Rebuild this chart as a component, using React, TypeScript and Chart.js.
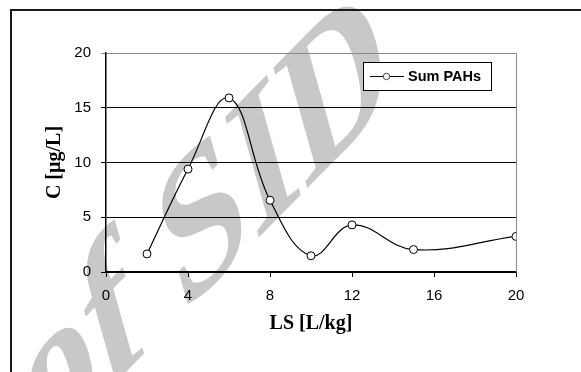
import React, { useEffect, useRef } from "react";
import { Chart, registerables } from "chart.js";

Chart.register(...registerables);

const lsValues = [2, 4, 6, 8, 10, 12, 15, 20];
const sumPAHs = [1.65, 9.4, 15.9, 6.55, 1.48, 4.3, 2.05, 3.25];
const seriesLabel = "Sum PAHs";
const xTitle = "LS [L/kg]";
const yTitle = "C [µg/L]";
const watermarkText = "of SID";

const WM = { a: 1.302, b: -1.323, c: 0.518, d: 1.834, e: 41, f: 458.5 };

const framePlugin = {
  id: "frame",
  beforeDraw(chart: any) {
    const ctx = chart.ctx;
    ctx.save();
    ctx.setTransform(WM.a, WM.b, WM.c, WM.d, WM.e, WM.f);
    ctx.font = 'bold 100px "Liberation Serif"';
    ctx.fillStyle = "rgb(200,200,200)";
    ctx.textBaseline = "alphabetic";
    ctx.textAlign = "left";
    ctx.fillText(watermarkText, 0, 0);
    ctx.restore();
  },
  afterDatasetsDraw(chart: any) {
    const ctx = chart.ctx;
    const { right, top, bottom } = chart.chartArea;
    ctx.save();
    ctx.strokeStyle = "#8a8a8a";
    ctx.lineWidth = 1;
    ctx.beginPath();
    ctx.moveTo(Math.round(right) + 0.5, top);
    ctx.lineTo(Math.round(right) + 0.5, bottom);
    ctx.stroke();

    const bx = right - 153, by = top + 9, bw = 128, bh = 28;
    ctx.fillStyle = "#fff";
    ctx.fillRect(bx, by, bw, bh);
    ctx.strokeStyle = "#000";
    ctx.lineWidth = 1;
    ctx.strokeRect(bx + 0.5, by + 0.5, bw, bh);
    const cy = by + 14.5;
    ctx.beginPath();
    ctx.moveTo(bx + 7, cy);
    ctx.lineTo(bx + 41, cy);
    ctx.stroke();
    ctx.beginPath();
    ctx.arc(bx + 23.5, cy, 3.2, 0, Math.PI * 2);
    ctx.fillStyle = "#fff";
    ctx.fill();
    ctx.strokeStyle = "#444";
    ctx.stroke();
    ctx.fillStyle = "#000";
    ctx.font = 'bold 14.5px "Liberation Sans"';
    ctx.textBaseline = "middle";
    ctx.textAlign = "left";
    ctx.fillText(chart.data.datasets[0].label, bx + 45, cy + 0.5);

    ctx.fillStyle = "#1a1a1a";
    ctx.fillRect(10, 9, 571, 2);
    ctx.fillRect(10, 9, 2, 363);
    ctx.restore();
  },
};

export default function App() {
  const canvasRef = useRef<HTMLCanvasElement | null>(null);

  useEffect(() => {
    document.body.style.margin = "0";
    const canvas = canvasRef.current;
    if (!canvas) return;
    const chart = new Chart(canvas, {
      type: "line",
      data: {
        datasets: [
          {
            label: seriesLabel,
            data: lsValues.map((x, i) => ({ x, y: sumPAHs[i] })),
            borderColor: "#000",
            borderWidth: 1.2,
            tension: 0.4,
            pointRadius: 4,
            pointBackgroundColor: "#fff",
            pointBorderColor: "#000",
            pointBorderWidth: 1,
            fill: false,
          },
        ],
      },
      options: {
        animation: false,
        responsive: false,
        devicePixelRatio: 1,
        layout: { padding: { left: 0, top: 53, right: 65, bottom: 0 } },
        plugins: {
          legend: { display: false },
          tooltip: { enabled: false },
        },
        scales: {
          x: {
            type: "linear",
            min: 0,
            max: 20,
            afterFit: (s: any) => {
              s.height = 100;
            },
            ticks: {
              stepSize: 4,
              padding: 10,
              color: "#000",
              font: { family: '"Liberation Sans"', size: 15 },
            },
            grid: {
              display: true,
              drawOnChartArea: false,
              drawTicks: true,
              tickLength: 5,
              color: "#000",
            },
            border: { display: true, color: "#000", width: 1.5 },
            title: {
              display: true,
              text: xTitle,
              color: "#000",
              font: { family: '"Liberation Serif"', size: 20, weight: "bold" },
              padding: { top: 0, bottom: 36 },
            },
          },
          y: {
            type: "linear",
            min: 0,
            max: 20,
            afterFit: (s: any) => {
              s.width = 106;
            },
            ticks: {
              stepSize: 5,
              padding: 10,
              color: "#000",
              font: { family: '"Liberation Sans"', size: 15 },
            },
            grid: {
              display: true,
              drawTicks: true,
              tickLength: 5,
              color: (c: any) => (c.tick && c.tick.value === 20 ? "#8a8a8a" : "#000"),
            },
            border: { display: true, color: "#000", width: 1.5 },
            title: {
              display: true,
              text: yTitle,
              color: "#000",
              font: { family: '"Liberation Serif"', size: 20, weight: "bold" },
              padding: { top: 42.5, bottom: 0 },
            },
          },
        },
      },
      plugins: [framePlugin],
    });
    return () => chart.destroy();
  }, []);

  return (
    <div style={{ width: 581, height: 372 }}>
      <canvas ref={canvasRef} width={581} height={372} style={{ display: "block" }} />
    </div>
  );
}
